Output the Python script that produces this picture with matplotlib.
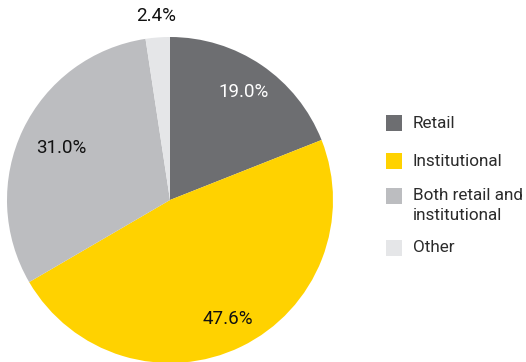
import numpy as np
import matplotlib
matplotlib.use("Agg")
import matplotlib.pyplot as plt
from matplotlib.patches import Rectangle

plt.rcParams["font.family"] = ["Roboto", "DejaVu Sans"]

# investor type shares (%)
categories = ["Retail", "Institutional", "Both retail and\ninstitutional", "Other"]
shares = [19.0, 47.6, 31.0, 2.4]
colors = ["#6d6e71", "#ffd200", "#bcbdc0", "#e5e6e8"]
label_colors = ["white", "#111111", "#111111", "#111111"]
label_radius = [0.80, 0.81, 0.74, 1.13]

W, H = 526, 362
fig = plt.figure(figsize=(W / 100, H / 100), dpi=100)

# pie axes placed in pixel terms: centre (170, 200), radius 163
cx, cy, r = 170, 200, 163
ax = fig.add_axes([(cx - r) / W, (H - cy - r) / H, 2 * r / W, 2 * r / H])
wedges, _ = ax.pie(shares, colors=colors, startangle=90, counterclock=False,
                   radius=1.0, wedgeprops=dict(linewidth=0))
ax.set_xlim(-1, 1)
ax.set_ylim(-1, 1)
ax.set_aspect("equal")
ax.axis("off")

for w, val, rr, tc in zip(wedges, shares, label_radius, label_colors):
    mid = np.deg2rad((w.theta1 + w.theta2) / 2)
    ax.text(rr * np.cos(mid), rr * np.sin(mid), f"{val:.1f}%", ha="center", va="center",
            fontsize=13.5, color=tc, clip_on=False)

# legend: square swatch + label, second line of a wrapped label 20px lower
rows_y = [123, 161, 196, 248]
for y, lab, c in zip(rows_y, categories, colors):
    fig.patches.append(Rectangle((386 / W, (H - y - 8) / H), 16 / W, 16 / H,
                                 transform=fig.transFigure, facecolor=c, edgecolor="none"))
    for k, line in enumerate(lab.split("\n")):
        fig.text(413 / W, (H - y - k * 20) / H, line, ha="left", va="center",
                 fontsize=12.3, color="#2b2b2b")

fig.savefig("out.png", dpi=100)
